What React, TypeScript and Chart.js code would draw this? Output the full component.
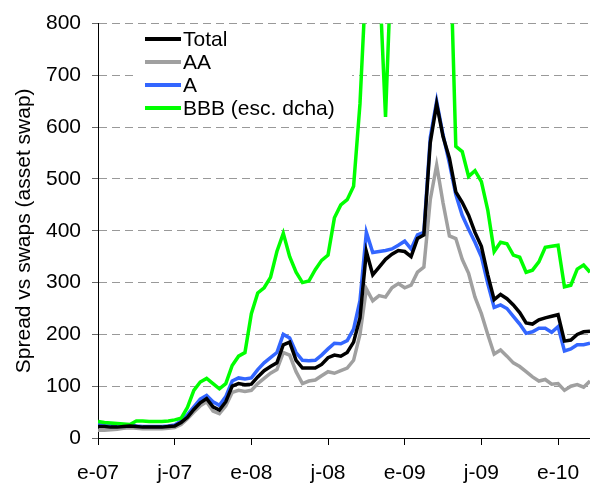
import { useEffect, useRef } from 'react';
import { Chart, registerables } from 'chart.js';

Chart.register(...registerables);

// Time axis: half-month steps starting January 2007 (x in months)
const monthStep = 0.5;
const xTickLabels = ['e-07', 'j-07', 'e-08', 'j-08', 'e-09', 'j-09', 'e-10'];
const seriesNames = ['Total', 'AA', 'A', 'BBB (esc. dcha)'];
const yTitle = 'Spread vs swaps (asset swap)';

const total = [22, 22, 21, 21, 22, 23, 22, 21, 21, 21, 21, 22, 23, 30, 40, 55, 68, 76, 60, 54,
  70, 100, 105, 103, 104, 118, 130, 138, 145, 180, 185, 150, 135, 135, 135, 142, 155, 160, 158, 165,
  185, 232, 360, 315, 330, 345, 355, 362, 360, 350, 385, 392, 570, 645, 582, 540, 475, 455, 430, 397,
  370, 315, 267, 277, 269, 257, 242, 222, 220, 228, 232, 235, 238, 187, 189, 200, 205, 206];

const aa = [15, 15, 16, 17, 19, 20, 19, 18, 18, 18, 18, 19, 20, 26, 37, 50, 62, 70, 52, 47,
  62, 88, 92, 90, 92, 105, 115, 125, 132, 165, 160, 128, 105, 110, 112, 120, 128, 125, 130, 135,
  150, 200, 288, 265, 275, 272, 290, 298, 290, 295, 320, 330, 460, 527, 454, 390, 385, 345, 318, 272,
  240, 200, 162, 170, 158, 145, 138, 128, 118, 110, 113, 104, 105, 92, 100, 103, 98, 110];

const a = [27, 26, 24, 23, 24, 25, 23, 22, 22, 22, 22, 23, 25, 33, 45, 60, 75, 82, 70, 63,
  80, 110, 116, 114, 116, 132, 145, 155, 165, 200, 193, 165, 150, 149, 150, 160, 172, 183, 182, 188,
  210, 265, 397, 358, 360, 362, 365, 372, 380, 365, 392, 397, 580, 650, 585, 530, 470, 430, 403, 378,
  350, 298, 252, 257, 250, 235, 220, 202, 205, 212, 212, 204, 215, 168, 172, 180, 180, 183];

const bbb = [32, 30, 29, 28, 27, 26, 33, 33, 32, 32, 32, 33, 35, 38, 59, 92, 108, 115, 105, 95,
  105, 140, 158, 165, 240, 280, 290, 310, 360, 395, 350, 320, 300, 303, 325, 343, 353, 425, 450, 460,
  486, 645, 900, 950, 900, 620, 950, 1000, 1000, 1000, 1000, 1000, 1000, 1000, 1000, 1000, 563, 553, 505, 516,
  495, 440, 360, 378, 375, 353, 349, 320, 324, 340, 368, 370, 372, 292, 295, 326, 334, 320];

const colors = ['#000000', '#a0a0a0', '#3366ff', '#00ff00'];
const FONT = '"Liberation Sans", Arial, sans-serif';

export default function App() {
  const ref = useRef<HTMLCanvasElement>(null);

  useEffect(() => {
    if (!ref.current) return;
    const font = { family: FONT, size: 21 };
    const toPoints = (arr: number[]) => arr.map((v, i) => ({ x: i * monthStep, y: v }));
    const seriesData = [total, aa, a, bbb];
    const drawOrder = [0, 3, 2, 1];

    const legendPlugin = {
      id: 'customLegend',
      beforeDatasetsDraw(chart: any) {
        const ctx = chart.ctx;
        ctx.save();
        ctx.fillStyle = '#ffffff';
        ctx.fillRect(133, 26, 219, 92);
        ctx.restore();
      },
      afterDatasetsDraw(chart: any) {
        const ctx = chart.ctx;
        ctx.save();
        ctx.font = `21px ${FONT}`;
        ctx.textBaseline = 'middle';
        ctx.textAlign = 'left';
        seriesNames.forEach((name, i) => {
          const y = 39 + i * 23;
          ctx.strokeStyle = colors[i];
          ctx.lineWidth = 4;
          ctx.beginPath();
          ctx.moveTo(145, y);
          ctx.lineTo(181, y);
          ctx.stroke();
          ctx.fillStyle = '#000';
          ctx.fillText(name, 183, y + 1);
        });
        ctx.restore();
      },
    };

    const chart = new Chart(ref.current, {
      type: 'line',
      data: {
        datasets: seriesData.map((arr, i) => ({
          label: seriesNames[i],
          data: toPoints(arr),
          borderColor: colors[i],
          backgroundColor: colors[i],
          borderWidth: 3.5,
          pointRadius: 0,
          tension: 0,
          fill: false,
          order: drawOrder[i],
        })),
      },
      options: {
        responsive: false,
        animation: false,
        devicePixelRatio: 1,
        layout: { padding: { top: 19, left: 0, right: 0, bottom: 0 } },
        plugins: { legend: { display: false }, tooltip: { enabled: false } },
        scales: {
          x: {
            type: 'linear',
            min: 0,
            max: 38.5,
            ticks: {
              stepSize: 6,
              includeBounds: false,
              autoSkip: false,
              maxRotation: 0,
              padding: 16,
              color: '#000',
              font,
              callback: (v: any) => xTickLabels[Math.round(Number(v) / 6)] ?? '',
            },
            grid: { drawOnChartArea: false, drawTicks: true, tickLength: 7, tickColor: '#000', tickWidth: 1 },
            border: { color: '#000', width: 1 },
            afterFit: (s: any) => { s.height = 45; s.paddingLeft = 0; s.paddingRight = 0; },
          },
          y: {
            min: 0,
            max: 800,
            ticks: { stepSize: 100, padding: 11, color: '#000', font },
            grid: { color: '#999999', lineWidth: 1, tickLength: 6, tickColor: '#666666', tickBorderDash: [] },
            border: { color: '#000', width: 1, dash: [8, 5] },
            title: { display: true, text: yTitle, color: '#000', font, padding: { top: 12, bottom: 0 } },
            afterFit: (s: any) => { s.width = 98; },
          },
        },
      },
      plugins: [legendPlugin],
    } as any);

    return () => chart.destroy();
  }, []);

  return (
    <div style={{ position: 'fixed', left: 0, top: 0, width: 590, height: 483, background: '#fff' }}>
      <canvas ref={ref} width={590} height={483} style={{ display: 'block' }} />
    </div>
  );
}
